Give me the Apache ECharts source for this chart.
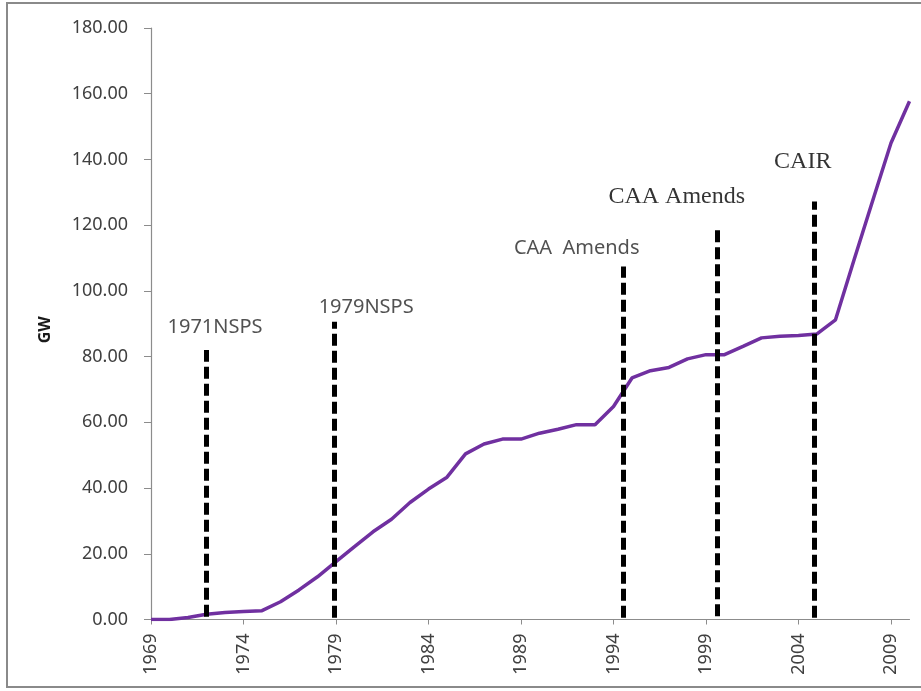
<!DOCTYPE html>
<html>

<head>
    <meta charset="UTF-8">
    <title>GW by year</title>
    <script src="https://cdn.jsdelivr.net/npm/echarts@6.0.0/dist/echarts.min.js"></script>
    <style>
        html, body {
            margin: 0;
            padding: 0;
            background: #fff;
        }
        #chart {
            width: 921px;
            height: 691px;
        }
    </style>
</head>

<body>
    <div id="chart"></div>
    <script>
        // capacity by year
        const years = [1969, 1970, 1971, 1972, 1973, 1974, 1975, 1976, 1977, 1978,
            1979, 1980, 1981, 1982, 1983, 1984, 1985, 1986, 1987, 1988,
            1989, 1990, 1991, 1992, 1993, 1994, 1995, 1996, 1997, 1998,
            1999, 2000, 2001, 2002, 2003, 2004, 2005, 2006, 2007, 2008,
            2009, 2010];
        const gw = [0.0, 0.0, 0.6, 1.6, 2.1, 2.4, 2.7, 5.4, 9.0, 13.0,
            17.6, 22.2, 26.7, 30.5, 35.6, 39.7, 43.3, 50.4, 53.4, 54.9,
            54.9, 56.7, 57.9, 59.3, 59.3, 64.8, 73.5, 75.7, 76.7, 79.3,
            80.6, 80.6, 83.1, 85.7, 86.2, 86.4, 86.9, 91.2, 109.4, 127.3,
            145.0, 157.7];

        // regulation markers (dashed lines)
        const eventNames = ['1971NSPS', '1979NSPS', 'CAA  Amends', 'CAA Amends', 'CAIR'];
        const eventYears = [1972.0, 1978.9, 1994.55, 1999.6, 2004.87];
        const eventTops = [82.0, 90.6, 107.4, 119.6, 127.2];
        const eventBottoms = [0.8, 0.5, 0.5, 1.0, 0.5];
        // where each marker's text sits (data units)
        const labelYears = [1972.46, 1980.63, 1992.01, 1997.42, 2004.23];
        const labelValues = [88.8, 94.9, 112.9, 128.7, 139.4];

        // y ticks
        const yMin = 0, yMax = 180, yStep = 20;
        const xMin = 1969, xMax = 2010, xStep = 5;

        const sansLabel = { fontFamily: 'Noto Sans', fontSize: 20, color: '#262626' };
        const serifLabel = { fontFamily: 'Liberation Serif', fontSize: 24, color: '#000' };
        const labelStyles = [sansLabel, sansLabel, sansLabel, serifLabel, serifLabel];

        const chart = echarts.init(document.getElementById('chart'));

        chart.setOption({
            animation: false,
            grid: { left: 151, right: 11.5, top: 28, bottom: 71.5 },
            graphic: [{
                type: 'rect',
                shape: { x: 7, y: 3, width: 940, height: 684 },
                style: { fill: 'none', stroke: '#8a8a8a', lineWidth: 2 },
                silent: true
            }],
            xAxis: {
                type: 'value',
                min: xMin,
                max: xMax,
                interval: xStep,
                splitLine: { show: false },
                axisLine: { lineStyle: { color: '#8c8c8c', width: 1.2 } },
                axisTick: { show: true, length: 5, lineStyle: { color: '#8c8c8c' } },
                axisLabel: {
                    rotate: 90,
                    margin: 14,
                    showMaxLabel: false,
                    fontFamily: 'Noto Sans',
                    fontSize: 18,
                    color: '#404040',
                    formatter: v => String(v)
                }
            },
            yAxis: {
                type: 'value',
                min: yMin,
                max: yMax,
                interval: yStep,
                name: 'GW',
                nameLocation: 'middle',
                nameGap: 98,
                nameRotate: 90,
                nameTextStyle: { fontFamily: 'Noto Sans', fontSize: 16, fontWeight: 'bold', color: '#1a1a1a', padding: [0, 12, 0, 0] },
                splitLine: { show: false },
                axisLine: { show: true, lineStyle: { color: '#8c8c8c', width: 1.2 } },
                axisTick: { show: true, length: 7, lineStyle: { color: '#8c8c8c' } },
                axisLabel: {
                    margin: 23,
                    fontFamily: 'Noto Sans',
                    fontSize: 18,
                    color: '#404040',
                    formatter: v => v.toFixed(2)
                }
            },
            series: [{
                type: 'line',
                data: years.map((y, i) => [y, gw[i]]),
                showSymbol: false,
                lineStyle: { color: '#7030A0', width: 3.5 },
                z: 2,
                markLine: {
                    silent: true,
                    symbol: 'none',
                    label: { show: false },
                    lineStyle: { color: '#000', width: 5, type: [12, 5] },
                    data: eventYears.map((x, i) => [
                        { coord: [x, eventBottoms[i]] },
                        { coord: [x, eventTops[i]] }
                    ])
                }
            }, {
                type: 'scatter',
                symbolSize: 0,
                silent: true,
                z: 5,
                data: labelYears.map((x, i) => ({
                    name: eventNames[i],
                    value: [x, labelValues[i]],
                    label: Object.assign({ show: true, position: 'inside', formatter: '{b}' }, labelStyles[i])
                }))
            }]
        });
    </script>
</body>

</html>
